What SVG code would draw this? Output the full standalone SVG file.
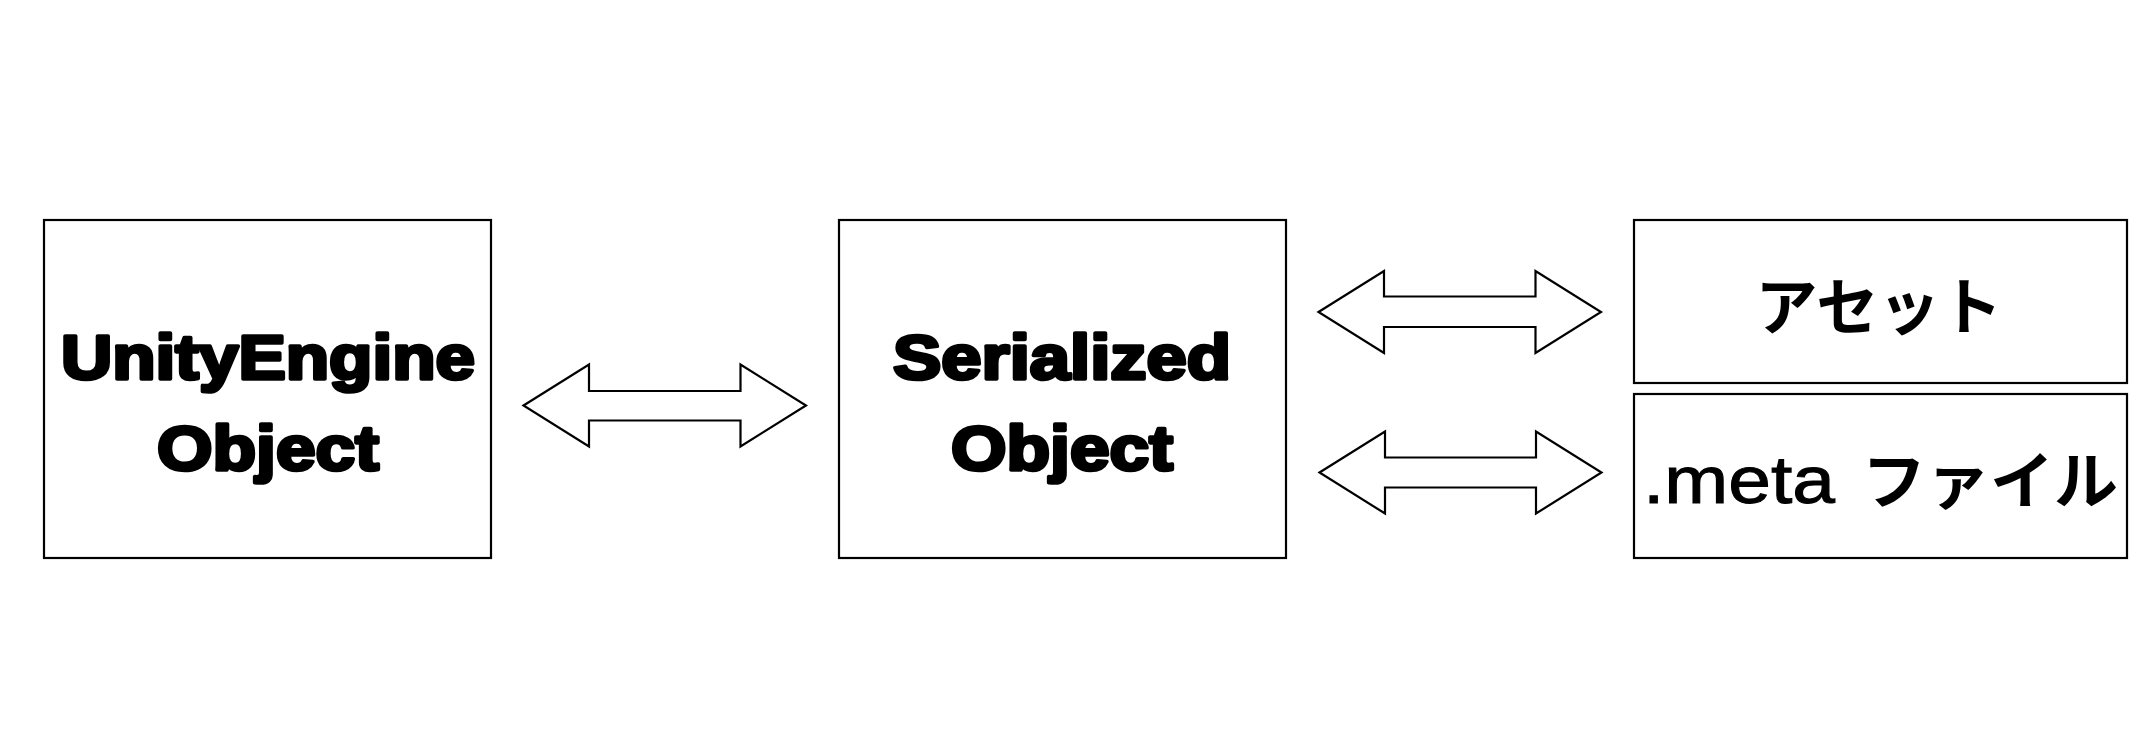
<svg xmlns="http://www.w3.org/2000/svg" width="2149" height="755" viewBox="0 0 2149 755">
<style>
.box{fill:#fff;stroke:#000;stroke-width:2.2}
.arrow{fill:#fff;stroke:#000;stroke-width:2.2;stroke-linejoin:miter}
.heavy{font-family:"Liberation Sans",Arial,sans-serif;font-weight:bold;font-size:63px;fill:#000;stroke:#000;stroke-width:3.6;stroke-linejoin:round;text-anchor:middle}
.jp{font-family:"Noto Sans CJK JP","Noto Sans CJK SC",sans-serif;font-weight:bold;font-size:62px;fill:#000}
.latin{font-family:"Liberation Sans",Arial,sans-serif;font-size:67px;fill:#000;stroke:#000;stroke-width:1}
</style>
<rect width="2149" height="755" fill="#fff"/>
<g id="connectors">
<polygon class="arrow" points="523.5,405.5 589,364.5 589,391 740.5,391 740.5,364.5 806,405.5 740.5,446.5 740.5,420.5 589,420.5 589,446.5"/>
<polygon class="arrow" points="1318.5,312 1384,271 1384,296.5 1535.5,296.5 1535.5,271 1601,312 1535.5,353 1535.5,327 1384,327 1384,353"/>
<polygon class="arrow" points="1319.5,472.5 1385,431.5 1385,457.5 1536,457.5 1536,431.5 1601.5,472.5 1536,513.5 1536,487.5 1385,487.5 1385,513.5"/>
</g>
<g id="unityengine-object">
<rect class="box" x="44" y="220" width="447" height="338"/>
<text class="heavy" x="268" y="379" textLength="414" lengthAdjust="spacingAndGlyphs">UnityEngine</text>
<text class="heavy" x="268" y="470" textLength="222" lengthAdjust="spacingAndGlyphs">Object</text>
</g>
<g id="serialized-object">
<rect class="box" x="839" y="220" width="447" height="338"/>
<text class="heavy" x="1062" y="379" textLength="338" lengthAdjust="spacingAndGlyphs">Serialized</text>
<text class="heavy" x="1062" y="470" textLength="222" lengthAdjust="spacingAndGlyphs">Object</text>
</g>
<g id="asset">
<rect class="box" x="1634" y="220" width="493" height="163"/>
<text class="jp" x="1879" y="330" text-anchor="middle">アセット</text>
</g>
<g id="meta-file">
<rect class="box" x="1634" y="394" width="493" height="164"/>
<text><tspan class="latin" x="1643" y="503" textLength="192" lengthAdjust="spacingAndGlyphs">.meta</tspan><tspan class="jp" x="1862" y="504" font-size="66" textLength="256" lengthAdjust="spacingAndGlyphs">ファイル</tspan></text>
</g>
</svg>
